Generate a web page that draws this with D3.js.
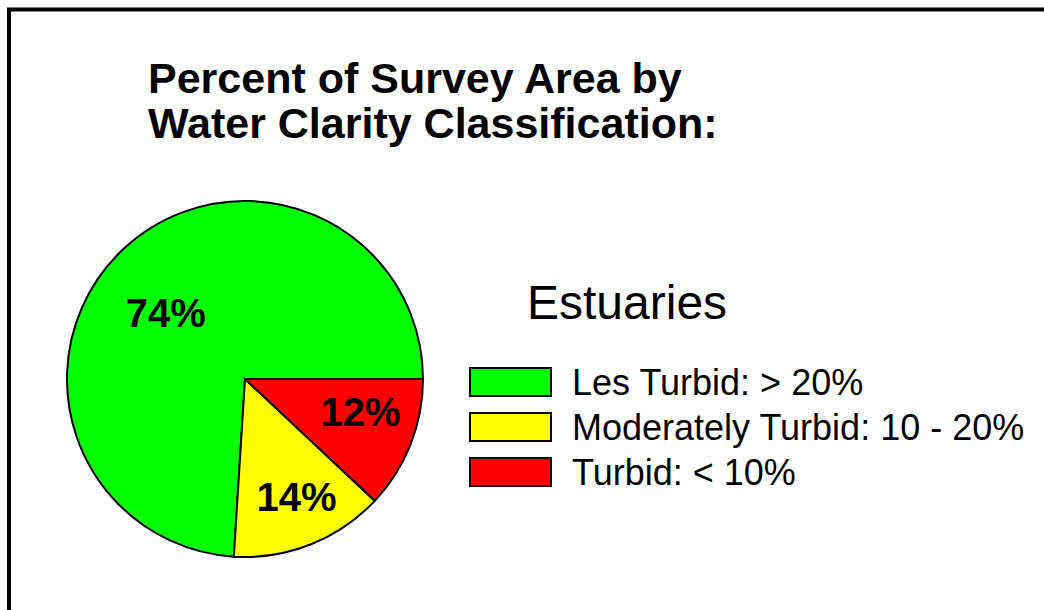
<!DOCTYPE html>
<html>
<head>
<meta charset="utf-8">
<script src="https://cdn.jsdelivr.net/npm/d3@7"></script>
<style>
  html, body { margin: 0; padding: 0; background: #fff; }
  svg { display: block; font-family: Arial, "Liberation Sans", sans-serif; }
</style>
</head>
<body>
<svg id="chart" width="1044" height="610"></svg>
<script>
// ---- data ----
const titleLines = ["Percent of Survey Area by", "Water Clarity Classification:"];
const legendTitle = "Estuaries";
const categories = ["Les Turbid: > 20%", "Moderately Turbid: 10 - 20%", "Turbid: < 10%"];
const values = [74, 14, 12];
const colors = ["#00ff00", "#ffff00", "#ff0000"];
// layout-only nudges for the percentage labels (px, relative to arc centroid)
const labelNudge = [[0, 18], [9, 10], [8, -10]];

const svg = d3.select("#chart");

// frame (left and top edges only, as in the reference)
svg.append("path")
  .attr("d", "M9,610 L9,9.5 L1044,9.5")
  .attr("fill", "none")
  .attr("stroke", "#000")
  .attr("stroke-width", 4);

// title
const title = svg.append("text")
  .attr("x", 148)
  .attr("font-size", 43)
  .attr("font-weight", "bold")
  .attr("fill", "#000");
titleLines.forEach((t, i) => {
  title.append("tspan").attr("x", 148).attr("y", 93 + i * 45).text(t);
});

// pie
const cx = 245, cy = 379, r = 178;
const data = categories.map((c, i) => ({ name: c, value: values[i], color: colors[i], i }));
const pie = d3.pie().value(d => d.value).sort(null)
  .startAngle(Math.PI / 2).endAngle(Math.PI / 2 - 2 * Math.PI);
const arcs = pie(data);
const arc = d3.arc().innerRadius(0).outerRadius(r);
const labelArc = d3.arc().innerRadius(r * 0.65).outerRadius(r * 0.65);

const g = svg.append("g").attr("transform", `translate(${cx},${cy})`);
g.selectAll("path.slice")
  .data(arcs)
  .join("path")
  .attr("class", "slice")
  .attr("d", arc)
  .attr("fill", d => d.data.color)
  .attr("stroke", "#000")
  .attr("stroke-width", 2)
  .attr("stroke-linejoin", "miter");

g.selectAll("text.pct")
  .data(arcs)
  .join("text")
  .attr("class", "pct")
  .attr("x", d => labelArc.centroid(d)[0] + labelNudge[d.data.i][0])
  .attr("y", d => labelArc.centroid(d)[1] + labelNudge[d.data.i][1])
  .attr("dy", "0.36em")
  .attr("text-anchor", "middle")
  .attr("font-size", 40)
  .attr("font-weight", "bold")
  .attr("fill", "#000")
  .text(d => d.data.value + "%");

// legend
svg.append("text")
  .attr("x", 527)
  .attr("y", 319)
  .attr("font-size", 48)
  .attr("fill", "#000")
  .text(legendTitle);

const legendY = d3.scaleBand().domain(categories).range([368, 503]).paddingInner(0);
const lg = svg.append("g");
const rows = lg.selectAll("g.row").data(data).join("g").attr("class", "row")
  .attr("transform", d => `translate(0,${legendY(d.name)})`);
rows.append("rect")
  .attr("x", 470).attr("y", 0)
  .attr("width", 81).attr("height", 28)
  .attr("fill", d => d.color)
  .attr("stroke", "#000")
  .attr("stroke-width", 2);
rows.append("text")
  .attr("x", 572)
  .attr("y", 27)
  .attr("font-size", 36)
  .attr("fill", "#000")
  .text(d => d.name);
</script>
</body>
</html>
